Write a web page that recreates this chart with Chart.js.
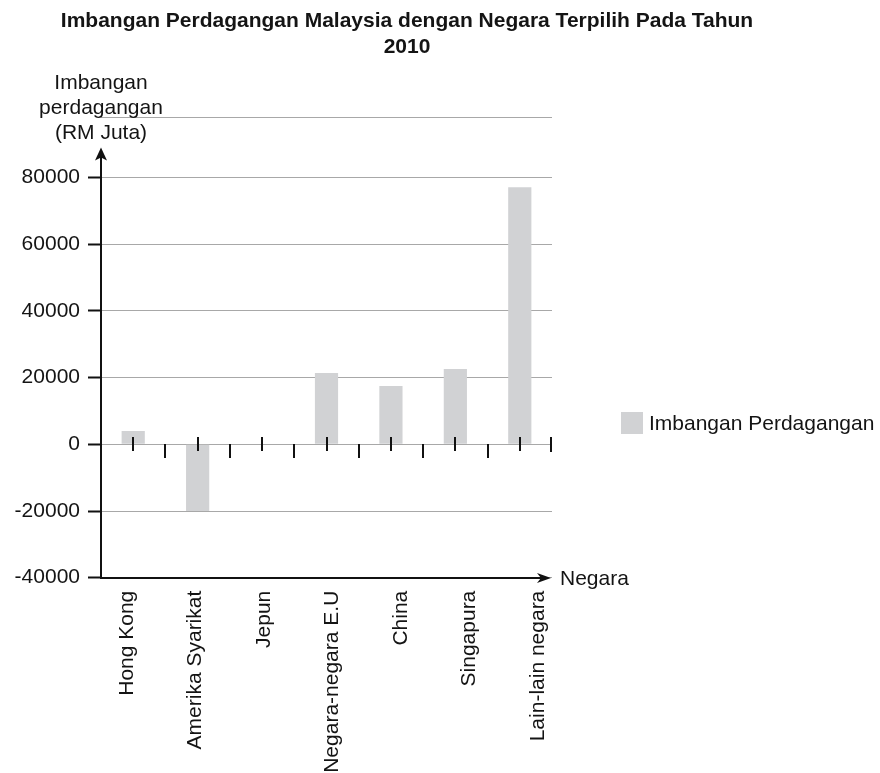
<!DOCTYPE html>
<html>
<head>
<meta charset="utf-8">
<script src="https://cdn.jsdelivr.net/npm/chart.js@4/dist/chart.umd.min.js"></script>
<style>
  html, body { margin: 0; padding: 0; background: #ffffff; }
  #wrap { width: 880px; height: 773px; position: relative; }
</style>
</head>
<body>
<div id="wrap"><canvas id="c" width="880" height="773"></canvas></div>
<script>
// ---- Data ----
const categories = ["Hong Kong", "Amerika Syarikat", "Jepun", "Negara-negara E.U", "China", "Singapura", "Lain-lain negara"];
const balanceValues = [4000, -20000, 0, 21400, 17500, 22600, 77100];
const seriesLabel = "Imbangan Perdagangan";
const titleLines = ["Imbangan Perdagangan Malaysia dengan Negara Terpilih Pada Tahun", "2010"];
const yAxisTitleLines = ["Imbangan", "perdagangan", "(RM Juta)"];
const xAxisTitle = "Negara";
const yTickValues = [-40000, -20000, 0, 20000, 40000, 60000, 80000];
const yMin = -40000, yMax = 98000, yLabelMax = 80000;

const FONT = "'Liberation Sans', Arial, sans-serif";
const TEXT = "#141414";
const BAR = "#d1d2d4";
const GRID = "#a8a8a8";

const decor = {
  id: 'decor',
  afterDraw(chart) {
    const ctx = chart.ctx;
    const ca = chart.chartArea;
    const xs = chart.scales.x, ys = chart.scales.y;
    ctx.save();
    // Title
    ctx.fillStyle = TEXT;
    ctx.font = "bold 21px " + FONT;
    ctx.textAlign = 'center';
    ctx.textBaseline = 'alphabetic';
    ctx.fillText(titleLines[0], 407, 27);
    ctx.fillText(titleLines[1], 407, 53);

    // Y axis title
    ctx.font = "21px " + FONT;
    ctx.textBaseline = 'middle';
    yAxisTitleLines.forEach((t, i) => ctx.fillText(t, ca.left, 83 + i * 25));

    // Zero-line tick marks
    const y0 = Math.round(ys.getPixelForValue(0));
    ctx.strokeStyle = '#111';
    ctx.lineWidth = 2;
    ctx.beginPath();
    for (let i = 0; i < categories.length; i++) {
      const cx = Math.round(xs.getPixelForValue(i));
      ctx.moveTo(cx, y0 - 7); ctx.lineTo(cx, y0 + 7);
      if (i < categories.length - 1) {
        const bx = Math.round((xs.getPixelForValue(i) + xs.getPixelForValue(i + 1)) / 2);
        ctx.moveTo(bx, y0); ctx.lineTo(bx, y0 + 14);
      }
    }
    const rx = Math.round(ca.right) - 1;
    ctx.moveTo(rx, y0 - 7); ctx.lineTo(rx, y0 + 8);
    ctx.stroke();

    // Y axis line with arrow
    const ax = Math.round(ca.left);
    const tipY = ys.getPixelForValue(89000);
    const by = ca.bottom;
    ctx.beginPath();
    ctx.moveTo(ax, by + 1); ctx.lineTo(ax, tipY + 6);
    ctx.stroke();
    ctx.fillStyle = '#111';
    ctx.beginPath();
    ctx.moveTo(ax, tipY);
    ctx.lineTo(ax - 6, tipY + 13);
    ctx.lineTo(ax, tipY + 10);
    ctx.lineTo(ax + 6, tipY + 13);
    ctx.closePath();
    ctx.fill();

    // X axis line with arrow
    const xTip = ca.right - 1;
    const yb = Math.round(by);
    ctx.beginPath();
    ctx.moveTo(ax - 1, yb); ctx.lineTo(xTip - 6, yb);
    ctx.stroke();
    ctx.beginPath();
    ctx.moveTo(xTip, yb);
    ctx.lineTo(xTip - 14, yb - 5);
    ctx.lineTo(xTip - 10, yb);
    ctx.lineTo(xTip - 14, yb + 5);
    ctx.closePath();
    ctx.fill();

    // X axis title
    ctx.fillStyle = TEXT;
    ctx.textAlign = 'left';
    ctx.textBaseline = 'middle';
    ctx.font = "21px " + FONT;
    ctx.fillText(xAxisTitle, ca.right + 8, yb + 1);

    // Legend
    const ds = chart.data.datasets[0];
    ctx.fillStyle = ds.backgroundColor;
    ctx.fillRect(621, 412, 22, 22);
    ctx.fillStyle = TEXT;
    ctx.fillText(ds.label, 649, 424);
    ctx.restore();
  }
};

new Chart(document.getElementById('c'), {
  type: 'bar',
  data: {
    labels: categories,
    datasets: [{
      label: seriesLabel,
      data: balanceValues,
      backgroundColor: BAR,
      borderWidth: 0,
      categoryPercentage: 0.8,
      barPercentage: 0.45
    }]
  },
  options: {
    responsive: false,
    animation: false,
    devicePixelRatio: 1,
    layout: { padding: { top: 117.5, left: 0, right: 328, bottom: 0 } },
    plugins: {
      legend: { display: false },
      title: { display: false },
      tooltip: { enabled: false }
    },
    scales: {
      x: {
        display: false
      },
      // label axis: the category names sit on a slightly wider spacing than the bars in the reference
      xl: {
        type: 'linear',
        position: 'bottom',
        offset: false,
        min: -0.38,
        max: 6.204,
        grid: { display: false, drawTicks: false, offset: false },
        border: { display: false },
        afterBuildTicks(scale) { scale.ticks = categories.map((_, i) => ({ value: i })); },
        ticks: {
          autoSkip: false,
          minRotation: 90,
          maxRotation: 90,
          padding: 13,
          color: TEXT,
          font: { family: FONT, size: 21 },
          callback: (v) => categories[v] !== undefined ? categories[v] : ''
        },
        afterFit(scale) { scale.height = 773 - 577.7; }
      },
      y: {
        min: yMin,
        max: yMax,
        border: { display: false },
        afterBuildTicks(scale) { scale.ticks = yTickValues.concat([yMax]).map(v => ({ value: v })); },
        grid: {
          color: GRID,
          lineWidth: 1,
          tickLength: 13,
          tickWidth: 2,
          tickColor: (c) => (c.tick && c.tick.value > yLabelMax) ? 'rgba(0,0,0,0)' : '#111'
        },
        ticks: {
          padding: 8,
          color: TEXT,
          font: { family: FONT, size: 21 },
          callback: (v) => v > yLabelMax ? '' : String(v)
        },
        afterFit(scale) { scale.width = 101; }
      }
    }
  },
  plugins: [decor]
});
</script>
</body>
</html>
